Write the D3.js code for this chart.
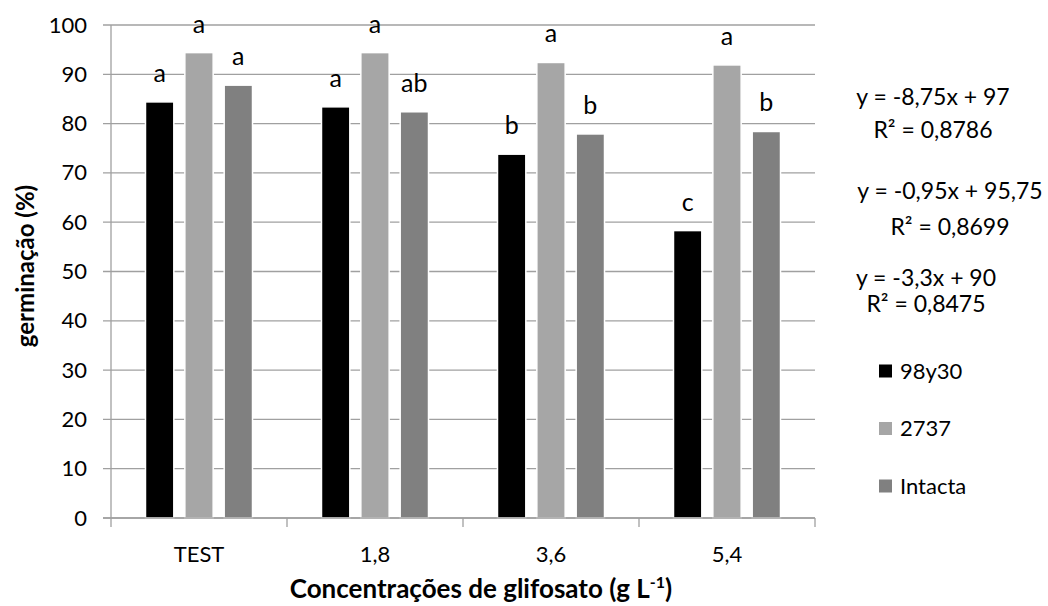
<!DOCTYPE html>
<html>
<head>
<meta charset="utf-8">
<script src="https://cdnjs.cloudflare.com/ajax/libs/d3/7.8.5/d3.min.js"></script>
<style>
  html, body { margin: 0; padding: 0; background: #fff; }
  svg text { font-family: Lato, "Open Sans", sans-serif; fill: #000; }
</style>
</head>
<body>
<svg id="chart" width="1048" height="606"></svg>
<script>
// Germination (%) by glyphosate concentration for three soybean cultivars
const categories = ["TEST", "1,8", "3,6", "5,4"];
const seriesNames = ["98y30", "2737", "Intacta"];
const values98y30 = [84.4, 83.4, 73.8, 58.3];
const values2737 = [94.4, 94.4, 92.4, 91.9];
const valuesIntacta = [87.8, 82.4, 77.9, 78.4];
const letters98y30 = ["a", "a", "b", "c"];
const letters2737 = ["a", "a", "a", "a"];
const lettersIntacta = ["a", "ab", "b", "b"];
const yTicks = [0, 10, 20, 30, 40, 50, 60, 70, 80, 90, 100];
const equations = [
  { eq: "y = -8,75x + 97", r2: "0,8786" },
  { eq: "y = -0,95x + 95,75", r2: "0,8699" },
  { eq: "y = -3,3x + 90", r2: "0,8475" }
];
const colors = ["#000000", "#a6a6a6", "#808080"];

const seriesValues = [values98y30, values2737, valuesIntacta];
const seriesLetters = [letters98y30, letters2737, lettersIntacta];

const svg = d3.select("#chart");
const plot = { left: 111, right: 815, top: 25, bottom: 518 };

const y = d3.scaleLinear().domain([0, 100]).range([plot.bottom, plot.top]);
const x0 = d3.scaleBand().domain(categories).range([plot.left, plot.right])
  .paddingInner(0.392).paddingOuter(0.196);
const x1 = d3.scaleBand().domain(d3.range(seriesNames.length))
  .range([0, x0.bandwidth()]).paddingInner(0.28);

// gridlines with short left ticks
svg.append("g").selectAll("line").data(yTicks).join("line")
  .attr("x1", plot.left - 8).attr("x2", plot.right)
  .attr("y1", d => y(d)).attr("y2", d => y(d))
  .attr("stroke", "#a0a0a0").attr("stroke-width", 1.3);

// y tick labels
svg.append("g").selectAll("text").data(yTicks).join("text")
  .attr("x", 87).attr("y", d => y(d) + 7.5)
  .attr("text-anchor", "end").style("font-size", "22px")
  .text(d => d);

// bars
const groups = svg.append("g").selectAll("g").data(categories).join("g")
  .attr("transform", c => `translate(${x0(c)},0)`);
groups.selectAll("rect")
  .data((c, ci) => seriesValues.map((vals, si) => ({ si, v: vals[ci], l: seriesLetters[si][ci] })))
  .join("rect")
  .attr("x", d => x1(d.si))
  .attr("width", x1.bandwidth())
  .attr("y", d => y(d.v))
  .attr("height", d => y(0) - y(d.v))
  .attr("fill", d => colors[d.si])
  .attr("stroke", "#ffffff").attr("stroke-width", 1.5);

// significance letters
groups.selectAll("text")
  .data((c, ci) => seriesValues.map((vals, si) => ({ si, v: vals[ci], l: seriesLetters[si][ci] })))
  .join("text")
  .attr("x", d => x1(d.si) + x1.bandwidth() / 2)
  .attr("y", d => y(d.v) - 20)
  .attr("text-anchor", "middle").style("font-size", "25px")
  .text(d => d.l);

// axes lines
svg.append("line").attr("x1", plot.left).attr("x2", plot.left)
  .attr("y1", plot.top).attr("y2", plot.bottom)
  .attr("stroke", "#a0a0a0").attr("stroke-width", 1.3);
svg.append("line").attr("x1", plot.left - 8).attr("x2", plot.right)
  .attr("y1", plot.bottom).attr("y2", plot.bottom)
  .attr("stroke", "#a0a0a0").attr("stroke-width", 1.3);
const xTickPos = categories.map(c => x0(c) - x0.step() * x0.paddingInner() / 2).concat([plot.right]);
svg.append("g").selectAll("line").data(xTickPos).join("line")
  .attr("x1", d => d).attr("x2", d => d)
  .attr("y1", plot.bottom).attr("y2", plot.bottom + 9)
  .attr("stroke", "#a0a0a0").attr("stroke-width", 1.3);

// category labels
svg.append("g").selectAll("text").data(categories).join("text")
  .attr("x", c => x0(c) + x0.bandwidth() / 2).attr("y", 562)
  .attr("text-anchor", "middle").style("font-size", "22px")
  .text(c => c);

// axis titles
svg.append("text")
  .attr("transform", "translate(34,266) rotate(-90)")
  .attr("text-anchor", "middle").style("font-size", "24px").style("font-weight", "bold")
  .text("germinação (%)");
const xt = svg.append("text")
  .attr("x", 481).attr("y", 598)
  .attr("text-anchor", "middle").style("font-size", "26px").style("font-weight", "bold");
xt.append("tspan").text("Concentrações de glifosato (g L");
xt.append("tspan").attr("dy", -10).style("font-size", "16px").text("-1");
xt.append("tspan").attr("dy", 10).text(")");

// regression equations
const eqPos = [
  { cx: 933, yEq: 105, yR: 138 },
  { cx: 950, yEq: 199, yR: 235 },
  { cx: 926, yEq: 286, yR: 312 }
];
equations.forEach((e, i) => {
  svg.append("text").attr("x", eqPos[i].cx).attr("y", eqPos[i].yEq)
    .attr("text-anchor", "middle").style("font-size", "23px").text(e.eq);
  svg.append("text").attr("x", eqPos[i].cx).attr("y", eqPos[i].yR)
    .attr("text-anchor", "middle").style("font-size", "23px")
    .text("R² = " + e.r2);
});

// legend
const legend = svg.append("g").selectAll("g").data(seriesNames).join("g")
  .attr("transform", (d, i) => `translate(879,${371 + i * 57.5})`);
legend.append("rect").attr("x", 0).attr("y", -6.5).attr("width", 13).attr("height", 13)
  .attr("fill", (d, i) => colors[i]);
legend.append("text").attr("x", 21).attr("y", 7.5).style("font-size", "22px").text(d => d);
</script>
</body>
</html>
